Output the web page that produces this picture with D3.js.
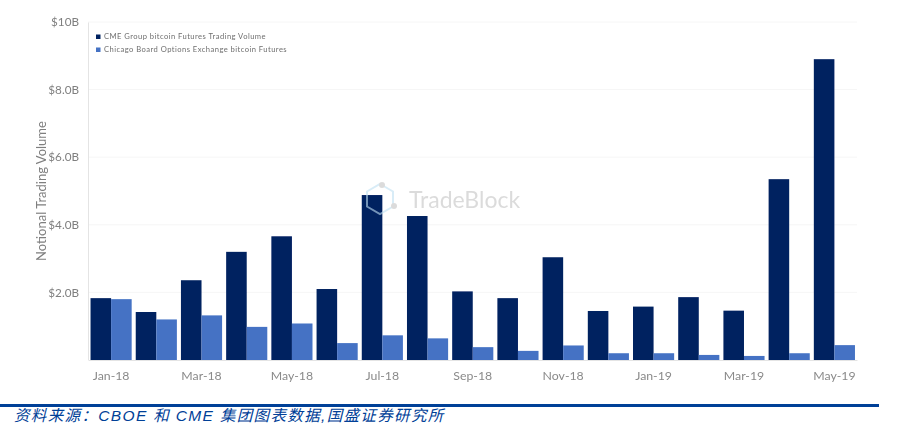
<!DOCTYPE html>
<html lang="en">
<head>
<meta charset="UTF-8">
<title>Bitcoin Futures Notional Trading Volume</title>
<script src="https://d3js.org/d3.v7.min.js"></script>
<style>
    body { margin: 0; background: #fff; }
    svg { display: block; }
    text { font-family: "Lato", "Open Sans", sans-serif; }
</style>
</head>
<body>
<svg id="chart" width="898" height="443"></svg>
<script>
// values in $ billions
const months = ["Jan-18","Feb-18","Mar-18","Apr-18","May-18","Jun-18","Jul-18","Aug-18","Sep-18","Oct-18","Nov-18","Dec-18","Jan-19","Feb-19","Mar-19","Apr-19","May-19"];
const cmeVolume = [1.83,1.42,2.36,3.2,3.66,2.1,4.88,4.26,2.03,1.83,3.04,1.45,1.58,1.86,1.46,5.35,8.9];
const cboeVolume = [1.8,1.2,1.32,0.98,1.08,0.5,0.73,0.64,0.38,0.27,0.43,0.2,0.2,0.15,0.12,0.2,0.44];
const seriesNames = ["CME Group bitcoin Futures Trading Volume","Chicago Board Options Exchange bitcoin Futures"];
const yTicks = [2,4,6,8,10];
const yTickLabels = ["$2.0B","$4.0B","$6.0B","$8.0B","$10B"];
const xTickLabels = ["Jan-18","Mar-18","May-18","Jul-18","Sep-18","Nov-18","Jan-19","Mar-19","May-19"];
const sourceText = "资料来源：CBOE 和 CME 集团图表数据,国盛证券研究所";

const colors = ["#002060", "#4472c4"];

const svg = d3.select("#chart");

// the reference is a soft, upscaled image
svg.append("defs").append("filter")
    .attr("id", "soft")
    .append("feGaussianBlur")
    .attr("stdDeviation", 0.5);

const chart = svg.append("g").attr("filter", "url(#soft)");

const x = d3.scaleBand().domain(months).range([88.5, 857]).paddingInner(0.09).paddingOuter(0.045);
const y = d3.scaleLinear().domain([0, 10]).range([360, 22]);
const sub = d3.scaleBand().domain([0, 1]).range([0, x.bandwidth()]);

// gridlines
chart.append("g")
    .selectAll("line")
    .data(yTicks)
    .join("line")
    .attr("x1", 88)
    .attr("x2", 857)
    .attr("y1", d => y(d))
    .attr("y2", d => y(d))
    .attr("stroke", "#f6f6f6")
    .attr("stroke-width", 1);

// axes
const yAxis = d3.axisLeft(y).tickValues(yTicks).tickSize(0).tickPadding(9)
    .tickFormat((d, i) => yTickLabels[i]);
const yG = chart.append("g").attr("transform", "translate(88,0)").call(yAxis);
yG.select(".domain").attr("stroke", "#e4e4e4");
yG.selectAll("text").attr("fill", "#7f7f7f").style("font-size", "11.7px");

const xAxis = d3.axisBottom(x).tickValues(xTickLabels).tickSize(0).tickPadding(11);
const xG = chart.append("g").attr("transform", "translate(0,360)").call(xAxis);
xG.select(".domain").attr("stroke", "#e4e4e4");
xG.selectAll("text").attr("fill", "#8a8a8a").style("font-size", "12.3px");

chart.append("text")
    .attr("transform", "translate(45.5,191) rotate(-90)")
    .attr("text-anchor", "middle")
    .attr("fill", "#7f7f7f")
    .style("font-size", "13px")
    .text("Notional Trading Volume");

// bars
[cmeVolume, cboeVolume].forEach(function(values, s) {
    chart.append("g")
        .selectAll("rect")
        .data(values)
        .join("rect")
        .attr("x", (d, i) => x(months[i]) + sub(s))
        .attr("y", d => y(d))
        .attr("width", sub.bandwidth())
        .attr("height", d => y(0) - y(d))
        .attr("fill", colors[s]);
});

// legend
const legend = chart.append("g")
    .selectAll("g")
    .data(seriesNames)
    .join("g")
    .attr("transform", (d, i) => `translate(96,${36.5 + i * 13})`);
legend.append("rect")
    .attr("y", -2)
    .attr("width", 4.5)
    .attr("height", 4.5)
    .attr("fill", (d, i) => colors[i]);
legend.append("text")
    .attr("x", 8)
    .attr("dy", "0.32em")
    .attr("fill", "#6f6f6f")
    .style("font-size", "7.6px")
    .style("letter-spacing", "0.45px")
    .text(d => d);

// TradeBlock watermark
const mark = chart.append("g").attr("opacity", 0.6);
mark.append("path")
    .attr("d", d3.line()(d3.range(6).map(i => {
        const a = Math.PI / 3 * i - Math.PI / 2;
        return [380 + 15 * Math.cos(a), 199 + 15 * Math.sin(a)];
    })) + "Z")
    .attr("fill", "none")
    .attr("stroke", "#bfe0f2")
    .attr("stroke-width", 2);
mark.selectAll("circle")
    .data([[382, 185], [394, 206]])
    .join("circle")
    .attr("cx", d => d[0])
    .attr("cy", d => d[1])
    .attr("r", 3)
    .attr("fill", "#c4c4c4");
mark.append("text")
    .attr("x", 409)
    .attr("y", 208)
    .attr("fill", "#c4c4c4")
    .style("font-size", "23px")
    .text("TradeBlock");

// source rule and caption
svg.append("line")
    .attr("x1", 0)
    .attr("x2", 879)
    .attr("y1", 405.5)
    .attr("y2", 405.5)
    .attr("stroke", "#004097")
    .attr("stroke-width", 3);

svg.append("text")
    .attr("x", 14)
    .attr("y", 421)
    .attr("fill", "#004097")
    .attr("font-style", "italic")
    .style("font-family", "'Liberation Sans', 'Noto Sans CJK SC', sans-serif")
    .style("font-size", "15.5px")
    .style("letter-spacing", "1.35px")
    .text(sourceText);
</script>
</body>
</html>
